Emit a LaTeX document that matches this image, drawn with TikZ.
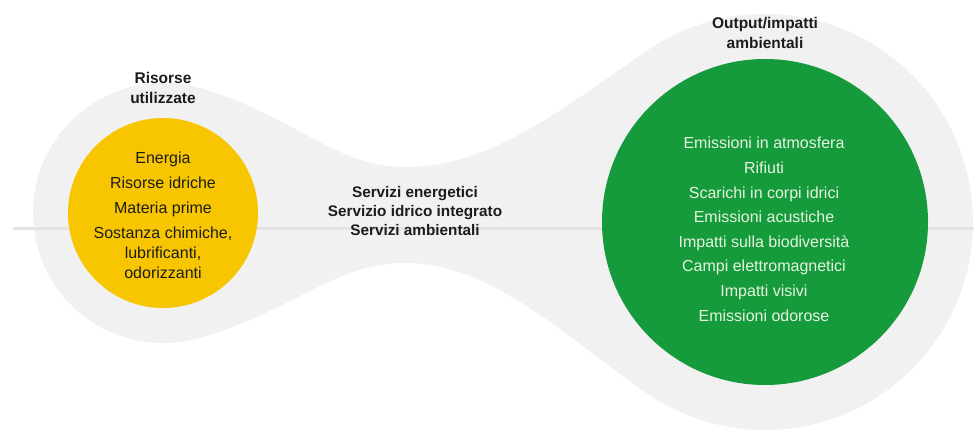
\documentclass[tikz,border=0pt]{standalone}
\usepackage{fontspec}
\setmainfont{Liberation Sans}
\definecolor{blob}{HTML}{F1F1F1}
\definecolor{band}{HTML}{E3E3E3}
\definecolor{yel}{HTML}{F7C600}
\definecolor{grn}{HTML}{159A3C}
\definecolor{grntxt}{HTML}{E6F4DE}
\definecolor{ink}{HTML}{1C1C1C}
\tikzset{
  lbl/.style={font=\bfseries\fontsize{15.5}{20.5}\selectfont, text=ink, align=center, inner sep=0pt},
  mid/.style={font=\bfseries\fontsize{15.3}{18.8}\selectfont, text=ink, align=center, inner sep=0pt},
  yitem/.style={font=\fontsize{16}{20}\selectfont, text=ink, align=center, inner sep=0pt, anchor=base},
  gitem/.style={font=\fontsize{16}{20}\selectfont, text=grntxt, align=center, inner sep=0pt, anchor=base},
}
\begin{document}
\begin{tikzpicture}[x=1pt,y=-1pt]
\useasboundingbox (0,0) rectangle (974,434);
% grey blob
\fill[blob] (163,213) circle[radius=130];
\fill[blob] (765,222) circle[radius=208];
\fill[blob] (200,88) .. controls (296,116.5) and (335,167) .. (405,167)
  .. controls (495,167) and (567,104) .. (650,49)
  -- (650,395) .. controls (567,340) and (495,263) .. (405,263)
  .. controls (335,263) and (296,309.5) .. (200,338) -- cycle;
% horizontal band
\draw[band, line width=3pt] (13,228) -- (974,228);
% circles
\node[circle, fill=yel, minimum size=190pt, inner sep=0pt] (res) at (163,213) {};
\node[circle, fill=grn, minimum size=326pt, inner sep=0pt] (out) at (765,222) {};
% labels
\node[lbl] (reslbl) at (163,88) {Risorse\\utilizzate};
\node[lbl] (outlbl) at (765,33) {Output/impatti\\ambientali};
\node[mid] (serv) at (415,211) {Servizi energetici\\Servizio idrico integrato\\Servizi ambientali};
% yellow items
\node[yitem] (y1) at (163,163) {Energia};
\node[yitem] (y2) at (163,188) {Risorse idriche};
\node[yitem] (y3) at (163,213) {Materia prime};
\node[yitem] (y4) at (163,278) {Sostanza chimiche,\\lubrificanti,\\odorizzanti};
% green items
\node[gitem] (g1) at (764,148) {Emissioni in atmosfera};
\node[gitem] (g2) at (764,173) {Rifiuti};
\node[gitem] (g3) at (764,198) {Scarichi in corpi idrici};
\node[gitem] (g4) at (764,222) {Emissioni acustiche};
\node[gitem] (g5) at (764,247) {Impatti sulla biodiversità};
\node[gitem] (g6) at (764,271) {Campi elettromagnetici};
\node[gitem] (g7) at (764,296) {Impatti visivi};
\node[gitem] (g8) at (764,321) {Emissioni odorose};
\end{tikzpicture}
\end{document}
